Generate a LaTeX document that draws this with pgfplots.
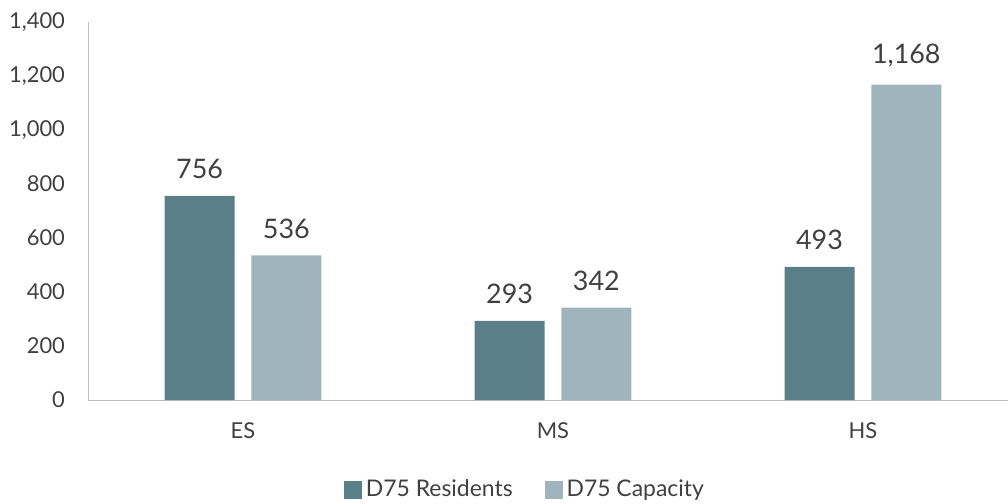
\documentclass[border=0pt]{standalone}
\usepackage{fontspec}
\setmainfont{Lato}
\usepackage{pgfplots}
\pgfplotsset{compat=1.18}
\definecolor{resid}{HTML}{5B7F89}
\definecolor{capac}{HTML}{9FB4BC}
\definecolor{txtgray}{HTML}{404040}
\definecolor{axgray}{HTML}{BFBFBF}
\begin{document}
\begin{tikzpicture}
\useasboundingbox (-44bp,-52bp) rectangle (460bp,200bp);
\begin{axis}[
  at={(0,0)}, anchor=south west,
  width=460bp, height=189bp, scale only axis,
  xmin=-0.5, xmax=2.468,
  ymin=0, ymax=1400,
  ytick={0,200,...,1400},
  xtick={0,1,2}, xticklabels={ES,MS,HS},
  axis x line*=bottom, axis y line*=left,
  x axis line style={draw=axgray,-}, y axis line style={draw=axgray,-},
  major tick length=0pt,
  ticklabel style={font=\fontsize{11}{13}\selectfont, text=txtgray},
  yticklabel style={xshift=-8bp},
  xticklabel style={yshift=-8bp},
  /pgf/number format/assume math mode=true,
  /pgf/number format/1000 sep={,},
  ybar, bar width=0.226,
  nodes near coords,
  nodes near coords style={font=\fontsize{13.5}{15}\selectfont, text=txtgray, /pgf/number format/assume math mode=true, /pgf/number format/1000 sep={,}, yshift=5bp},
  legend columns=2,
  legend style={at={(0.476,-0.238)}, anchor=center, draw=none, fill=none,
    font=\fontsize{11.5}{13}\selectfont, text=txtgray,
    /tikz/every even column/.append style={column sep=14bp}},
  legend image code/.code={\fill[#1] (0bp,-4.5bp) rectangle (9bp,4.5bp);},
  clip=false,
]
\addplot[fill=resid, draw=none, bar shift=-0.14] coordinates {(0,756) (1,293) (2,493)};
\addlegendentry{D75 Residents}
\addplot[fill=capac, draw=none, bar shift=0.14] coordinates {(0,536) (1,342) (2,1168)};
\addlegendentry{D75 Capacity}
\end{axis}
\end{tikzpicture}
\end{document}
